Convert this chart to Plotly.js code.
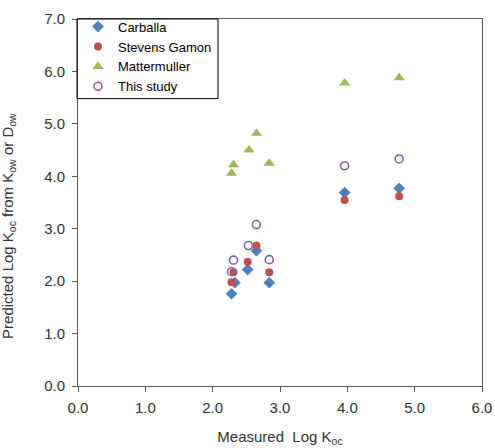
<!DOCTYPE html>
<html>
<head>
<meta charset="utf-8">
<script src="https://cdn.plot.ly/plotly-3.0.1.min.js"></script>
<style>html,body{margin:0;padding:0;background:#fff;}#chart{width:495px;height:448px;}</style>
</head>
<body>
<div id="chart"></div>
<script>
// Measured Log Koc (x) for each compound, per series
const carballaX = [2.28, 2.33, 2.52, 2.65, 2.84, 3.96, 4.77];
const carballaY = [1.76, 1.97, 2.22, 2.58, 1.97, 3.69, 3.77];

const stevensX = [2.28, 2.31, 2.52, 2.65, 2.84, 3.96, 4.77];
const stevensY = [1.98, 2.17, 2.37, 2.68, 2.17, 3.55, 3.62];

const matterX = [2.28, 2.31, 2.54, 2.65, 2.84, 3.96, 4.77];
const matterY = [4.06, 4.22, 4.50, 4.82, 4.25, 5.78, 5.88];

const studyX = [2.28, 2.31, 2.53, 2.65, 2.84, 3.96, 4.77];
const studyY = [2.18, 2.40, 2.68, 3.08, 2.41, 4.20, 4.33];

const seriesNames = ["Carballa", "Stevens Gamon", "Mattermuller", "This study"];
const xTickVals = [0, 1, 2, 3, 4, 5, 6];
const xTickText = ["0.0", "1.0", "2.0", "3.0", "4.0", "5.0", "6.0"];
const yTickVals = [0, 1, 2, 3, 4, 5, 6, 7];
const yTickText = ["0.0", "1.0", "2.0", "3.0", "4.0", "5.0", "6.0", "7.0"];

const FONT = "Liberation Sans, Arial, sans-serif";

const traces = [
  {x: carballaX, y: carballaY, name: seriesNames[0], type: "scatter", mode: "markers",
   marker: {symbol: "diamond", size: 9, color: "#4F81BD"}},
  {x: stevensX, y: stevensY, name: seriesNames[1], type: "scatter", mode: "markers",
   marker: {symbol: "circle", size: 8, color: "#C0504D"}},
  {x: matterX, y: matterY, name: seriesNames[2], type: "scatter", mode: "markers",
   marker: {symbol: "triangle-up", size: 10, color: "#9BBB59"}},
  {x: studyX, y: studyY, name: seriesNames[3], type: "scatter", mode: "markers",
   marker: {symbol: "circle-open", size: 8, color: "#8064A2", line: {width: 1.6, color: "#8064A2"}}}
];

const axisCommon = {
  showgrid: false, zeroline: false, showline: true, linecolor: "#595959", linewidth: 1,
  mirror: true, ticks: "outside", ticklen: 5, tickcolor: "#595959",
  tickfont: {family: FONT, size: 15, color: "#333333"}
};

const layout = {
  width: 495, height: 448,
  margin: {l: 78, r: 13, t: 17, b: 62},
  paper_bgcolor: "#ffffff", plot_bgcolor: "#ffffff",
  font: {family: FONT, color: "#333333"},
  showlegend: true,
  legend: {x: 0.0, y: 1.02, xanchor: "left", yanchor: "top",
    bgcolor: "rgba(0,0,0,0)", borderwidth: 0,
    font: {family: FONT, size: 13, color: "#000000"},
    tracegroupgap: 0, itemwidth: 30},
  shapes: [{
    type: "rect", xref: "paper", yref: "paper",
    x0: -0.0025, x1: 0.3465, y0: 0.783, y1: 1.0,
    line: {color: "#000000", width: 1}, fillcolor: "rgba(0,0,0,0)", layer: "above"
  }],
  xaxis: Object.assign({}, axisCommon, {
    range: [0, 6], tickvals: xTickVals, ticktext: xTickText, ticklabelstandoff: 3,
    title: {text: "Measured  Log K<sub>oc</sub>", font: {family: FONT, size: 15, color: "#333333"}, standoff: 16}
  }),
  yaxis: Object.assign({}, axisCommon, {
    range: [0, 7], tickvals: yTickVals, ticktext: yTickText, ticklabelstandoff: 4
  }),
  annotations: [{
    xref: "paper", yref: "paper", x: -0.171, y: 0.436, xanchor: "center", yanchor: "middle",
    textangle: -90, showarrow: false,
    text: "Predicted Log K<sub>oc</sub> from K<sub>ow</sub> or D<sub>ow</sub>",
    font: {family: FONT, size: 15, color: "#333333"}
  }]
};

Plotly.newPlot("chart", traces, layout, {displayModeBar: false, staticPlot: true});
</script>
</body>
</html>
